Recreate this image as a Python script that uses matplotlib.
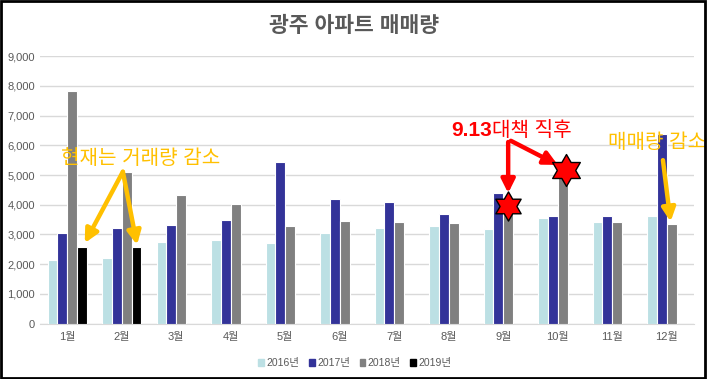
import numpy as np
import matplotlib.pyplot as plt
from matplotlib.patches import Patch, Rectangle
from matplotlib.path import Path

plt.rcParams['font.family'] = ['Liberation Sans', 'Noto Sans CJK KR']

# 월별 광주 아파트 매매량
months = ['1월', '2월', '3월', '4월', '5월', '6월', '7월', '8월', '9월', '10월', '11월', '12월']
years = ['2016년', '2017년', '2018년', '2019년']
sales_2016 = [2140, 2200, 2740, 2810, 2720, 3040, 3220, 3300, 3170, 3570, 3420, 3630]
sales_2017 = [3040, 3230, 3320, 3490, 5430, 4200, 4090, 3680, 4380, 3630, 3630, 6370]
sales_2018 = [7810, 5090, 4320, 4010, 3280, 3450, 3420, 3390, 3960, 5170, 3420, 3360]
sales_2019 = [2590, 2570, np.nan, np.nan, np.nan, np.nan, np.nan, np.nan, np.nan, np.nan, np.nan, np.nan]
colors = ['#BCE0E4', '#333399', '#808080', '#000000']

series = [sales_2016, sales_2017, sales_2018, sales_2019]
gray = '#595959'
orange = '#FFC000'
red = '#FF0000'

fig = plt.figure(figsize=(7.2, 3.79), dpi=100)
ax = fig.add_axes([0.0556, 0.146, 0.9083, 0.706])

x = np.arange(len(months))
w = 0.18
for k, vals in enumerate(series):
    ax.bar(x + (k - 1.5) * w, vals, width=w, color=colors[k],
           edgecolor='white', linewidth=0.8, zorder=3)

ax.set_xlim(-0.5, 11.5)
ax.set_ylim(0, 9000)
ax.set_yticks(range(0, 9001, 1000))
ax.set_yticklabels([f'{v:,}' for v in range(0, 9001, 1000)])
ax.set_xticks(x)
ax.set_xticklabels(months)
ax.tick_params(colors=gray, labelsize=8, length=0)
ax.tick_params(axis='x', pad=6)
ax.grid(axis='y', color='#D9D9D9', linewidth=1, zorder=0)
for s in ['top', 'right', 'left']:
    ax.spines[s].set_visible(False)
ax.spines['bottom'].set_color('#D9D9D9')

fig.text(0.491, 0.931, '광주 아파트 매매량', ha='center', va='center',
         fontsize=15.5, fontweight='bold', color=gray)

# 주석: 거래량 감소
ax.text(1.35, 5570, '현재는 거래량 감소', ha='center', va='center',
        fontsize=14.5, color=orange)
ap_o = dict(arrowstyle='-|>', lw=3.2, color=orange, mutation_scale=20, shrinkA=0, shrinkB=0)
ax.annotate('', xy=(x[0] + 1.5 * w + 0.05, sales_2019[0] + 120), xytext=(1.02, 5110), arrowprops=ap_o)
ax.annotate('', xy=(x[1] + 1.5 * w + 0.01, sales_2019[1] + 80), xytext=(1.02, 5110), arrowprops=ap_o)

# 주석: 9.13 대책 직후
ax.text(7.80, 6490, '9.13', ha='right', va='center', fontsize=15,
        fontweight='bold', color=red)
ax.text(7.80, 6490, '대책 직후', ha='left', va='center', fontsize=14.5, color=red)
ap_r = dict(arrowstyle='-|>', lw=3.2, color=red, mutation_scale=20, shrinkA=0, shrinkB=0)
ax.annotate('', xy=(8.09, 4390), xytext=(8.09, 6110), arrowprops=ap_r)
ax.annotate('', xy=(9.0, 5340), xytext=(8.14, 6150), arrowprops=ap_r)

hexagram = Path.unit_regular_star(6, innerCircle=0.577)
ax.plot([x[8] + 0.5 * w], [sales_2018[8]], marker=hexagram, markersize=21,
        color=red, markeredgecolor='black', markeredgewidth=1, zorder=5, clip_on=False)
ax.plot([x[9] + 0.5 * w + 0.07], [sales_2018[9]], marker=hexagram, markersize=23,
        color=red, markeredgecolor='black', markeredgewidth=1, zorder=5, clip_on=False)

# 주석: 12월 매매량 감소
ax.text(10.82, 6080, '매매량 감소', ha='center', va='center', fontsize=14.5, color=orange)
ax.annotate('', xy=(x[11] + 0.5 * w - 0.02, sales_2018[11] + 70), xytext=(10.93, 5500), arrowprops=ap_o)

handles = [Patch(color=c) for c in colors]
fig.legend(handles, years, loc='center', bbox_to_anchor=(0.493, 0.042), ncol=4,
           frameon=False, fontsize=7.5, labelcolor=gray, handlelength=0.55,
           handleheight=0.55, handletextpad=0.25, columnspacing=0.9)

fig.patches.append(Rectangle((0.001, 0.003), 0.978, 0.995, transform=fig.transFigure,
                             fill=False, edgecolor='black', linewidth=2))

fig.savefig('out.png', dpi=100)
